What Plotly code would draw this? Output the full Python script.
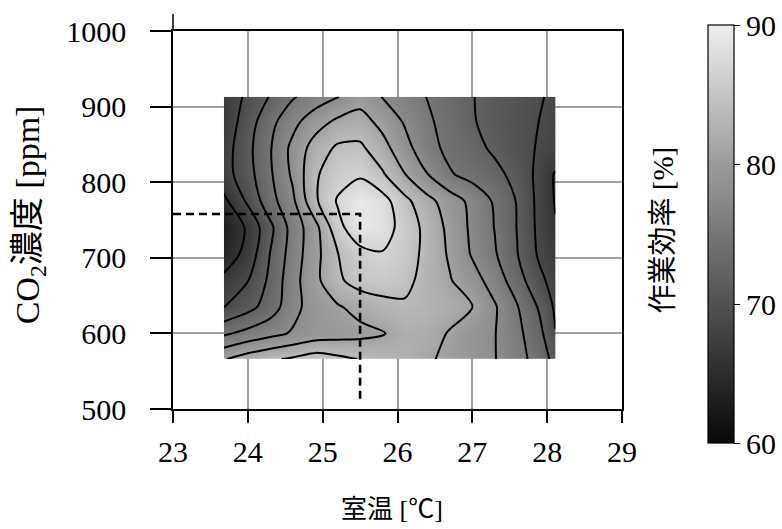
import plotly.graph_objects as go

# Grid of the measured field
temp_grid = [23.68, 24.0, 24.3, 24.6, 24.9, 25.2, 25.5, 25.8, 26.1, 26.4, 26.7, 27.0, 27.3, 27.6, 27.9, 28.11]
co2_grid = [566, 600, 635, 670, 705, 740, 775, 810, 845, 880, 913]

# Work efficiency [%] per CO2 row (left -> right along temperature)
eff_566 = [80.8, 82.5, 83.6, 84.4, 85.5, 84.7, 83.9, 83.2, 82.5, 81.4, 80.3, 79.2, 78.1, 76.2, 73.6, 71.0]
eff_600 = [74.5, 75.9, 77.1, 78.3, 79.3, 79.8, 80.2, 80.8, 82.3, 82.0, 80.8, 79.3, 78.1, 75.8, 72.8, 69.1]
eff_635 = [68.9, 71.0, 73.4, 77.0, 79.5, 80.7, 82.0, 83.0, 83.6, 83.0, 82.0, 81.1, 78.3, 75.2, 71.6, 68.5]
eff_670 = [66.8, 68.9, 72.7, 76.9, 80.2, 83.5, 85.2, 85.5, 84.8, 82.9, 81.2, 79.2, 76.7, 73.3, 69.7, 67.8]
eff_705 = [64.0, 67.1, 72.1, 76.4, 80.0, 83.9, 86.0, 86.8, 85.5, 83.1, 80.6, 77.7, 75.3, 72.1, 68.5, 66.8]
eff_740 = [63.0, 66.5, 71.3, 76.2, 80.0, 86.0, 89.3, 88.5, 85.7, 83.1, 80.2, 77.4, 74.9, 71.9, 68.2, 66.2]
eff_775 = [65.3, 69.5, 73.9, 77.4, 83.5, 87.3, 89.3, 88.2, 84.8, 81.9, 79.5, 77.2, 74.6, 71.8, 68.1, 65.8]
eff_810 = [67.7, 70.9, 74.6, 78.5, 83.6, 85.8, 86.6, 84.4, 81.1, 78.1, 75.3, 74.0, 72.8, 71.1, 68.1, 65.7]
eff_845 = [67.6, 71.2, 74.8, 78.8, 82.3, 84.5, 84.6, 82.1, 79.0, 76.1, 74.2, 72.9, 71.5, 70.1, 68.7, 68.0]
eff_880 = [66.9, 70.6, 74.1, 77.1, 79.7, 81.6, 82.2, 80.1, 77.7, 75.5, 73.8, 72.2, 71.1, 70.1, 68.95, 68.3]
eff_913 = [67.0, 69.6, 72.2, 74.7, 76.4, 77.9, 79.8, 77.9, 76.5, 74.9, 73.5, 72.1, 71.1, 70.2, 69.2, 68.5]

eff_rows = [eff_566, eff_600, eff_635, eff_670, eff_705, eff_740,
            eff_775, eff_810, eff_845, eff_880, eff_913]

# Optimum marker (dashed guide lines)
opt_temp = 25.5
opt_co2 = 758
guide_co2_bottom = 510

x_ticks = [23, 24, 25, 26, 27, 28, 29]
y_ticks = [500, 600, 700, 800, 900, 1000]
cbar_ticks = [60, 70, 80, 90]
cbar_range = [60, 90]

FONT = "Liberation Serif, Noto Sans CJK JP, serif"
GRAYS = [[0.0, "rgb(8,8,8)"], [0.333, "rgb(82,82,82)"],
         [0.667, "rgb(155,155,155)"], [1.0, "rgb(238,238,238)"]]

fig = go.Figure()

fig.add_trace(go.Contour(
    x=temp_grid, y=co2_grid, z=eff_rows,
    zmin=cbar_range[0], zmax=cbar_range[1],
    colorscale=GRAYS, showscale=False,
    contours=dict(start=66, end=87, size=3, coloring="heatmap", showlines=True),
    line=dict(color="black", width=2.0, smoothing=0.8),
    hoverinfo="skip",
))

# continuous colour bar
fig.add_trace(go.Scatter(
    x=[None, None], y=[None, None], mode="markers",
    marker=dict(color=cbar_range, cmin=cbar_range[0], cmax=cbar_range[1],
                colorscale=GRAYS, showscale=True,
                colorbar=dict(
                    x=1.192, xanchor="left", xpad=0,
                    y=1.015, yanchor="top", ypad=0,
                    thickness=26, len=418, lenmode="pixels",
                    tickvals=cbar_ticks, ticks="outside", ticklen=6, tickwidth=1.2,
                    tickcolor="black",
                    tickfont=dict(family=FONT, size=30, color="black"),
                    outlinecolor="black", outlinewidth=1.2,
                )),
    hoverinfo="skip", showlegend=False,
))

fig.add_trace(go.Scatter(
    x=[x_ticks[0], opt_temp, opt_temp], y=[opt_co2, opt_co2, guide_co2_bottom],
    mode="lines", line=dict(color="black", width=2.6, dash="8px,5px"),
    hoverinfo="skip", showlegend=False,
))

axis_common = dict(
    showgrid=True, gridcolor="rgb(160,160,160)", gridwidth=1.5,
    showline=True, linecolor="black", linewidth=1.5, mirror=True,
    ticks="outside", tickwidth=1.5, tickcolor="black",
    tickfont=dict(family=FONT, size=30, color="black"),
    zeroline=False, automargin=False,
)

fig.update_xaxes(range=[23, 29], tickvals=x_ticks, ticklen=12, ticklabelstandoff=3, **axis_common)
fig.update_yaxes(range=[500, 1000], tickvals=y_ticks, ticklen=21, ticklabelstandoff=18, **axis_common)

fig.update_layout(
    width=782, height=529,
    margin=dict(l=173, r=160, t=31, b=120, autoexpand=False),
    paper_bgcolor="white", plot_bgcolor="white",
    font=dict(family=FONT, color="black"),
    showlegend=False,
    shapes=[dict(type="line", xref="paper", yref="paper", x0=0, x1=0, y0=1, y1=1.045,
                 line=dict(color="black", width=1.5))],
    annotations=[
        dict(text="室温 [℃]", xref="paper", yref="paper", x=0.488, y=-0.266,
             showarrow=False, font=dict(family=FONT, size=26, color="black"),
             xanchor="center", yanchor="middle"),
        dict(text="CO<sub>2</sub>濃度 [ppm]", xref="paper", yref="paper", x=-0.318, y=0.513,
             showarrow=False, textangle=-90, font=dict(family=FONT, size=34, color="black"),
             xanchor="center", yanchor="middle"),
        dict(text="作業効率 [%]", xref="paper", yref="paper", x=1.092, y=0.473,
             showarrow=False, textangle=-90, font=dict(family=FONT, size=29, color="black"),
             xanchor="center", yanchor="middle"),
    ],
)

fig.write_html("out.html", config={"displayModeBar": False},
               post_script="document.body.style.margin='0px';")
